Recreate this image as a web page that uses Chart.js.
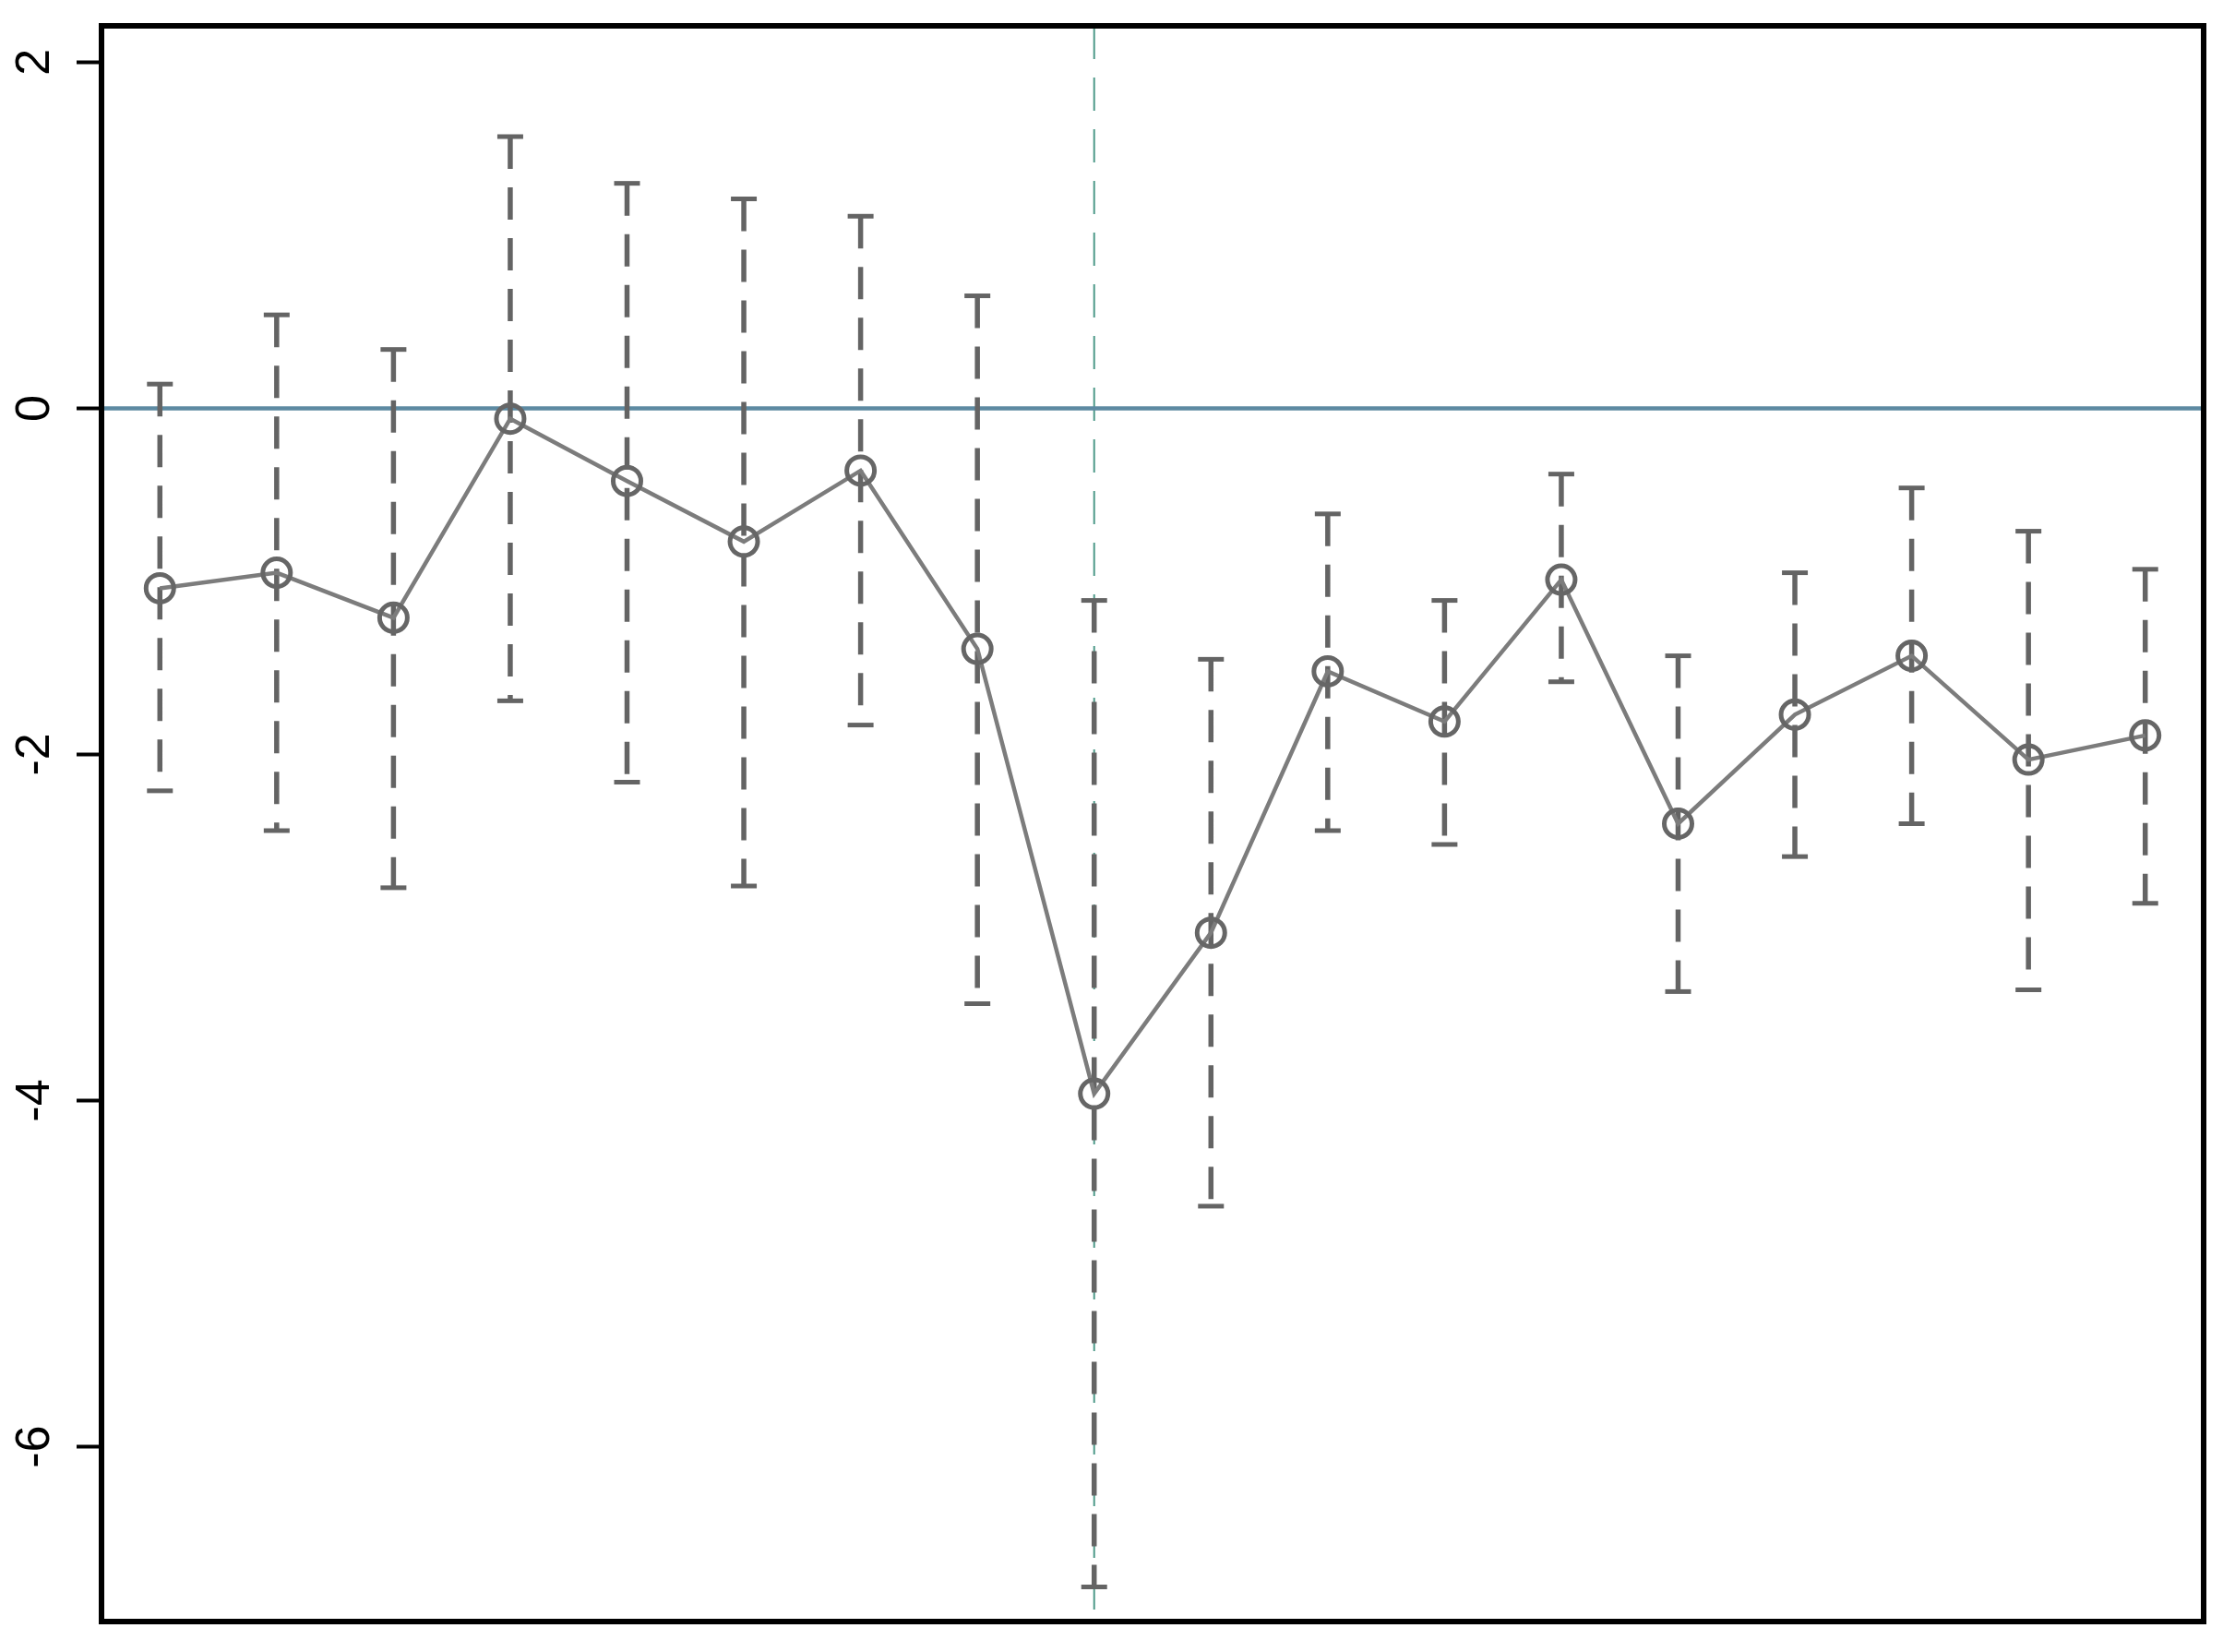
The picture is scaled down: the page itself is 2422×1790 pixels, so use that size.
<!DOCTYPE html>
<html>
<head>
<meta charset="utf-8">
<script src="https://cdn.jsdelivr.net/npm/chart.js@4.4.1/dist/chart.umd.min.js"></script>
<style>
  html, body { margin: 0; padding: 0; background: #fff; }
  #chart { display: block; }
</style>
</head>
<body>
<canvas id="chart" width="2422" height="1790"></canvas>
<script>
// event-time periods (x positions), 0 = event
const periods = [-8, -7, -6, -5, -4, -3, -2, -1, 0, 1, 2, 3, 4, 5, 6, 7, 8, 9];
const coef  = [-1.04, -0.95, -1.21, -0.06, -0.42, -0.77, -0.36, -1.39, -3.96, -3.03, -1.52, -1.81, -0.99, -2.40, -1.77, -1.43, -2.03, -1.89];
const upper = [ 0.14,  0.54,  0.34,  1.57,  1.30,  1.21,  1.11,  0.65, -1.11, -1.45, -0.61, -1.11, -0.38, -1.43, -0.95, -0.46, -0.71, -0.93];
const lower = [-2.21, -2.44, -2.77, -1.69, -2.16, -2.76, -1.83, -3.44, -6.81, -4.61, -2.44, -2.52, -1.58, -3.37, -2.59, -2.40, -3.36, -2.86];
const yTicks = [-6, -4, -2, 0, 2];
const eventPeriod = 0;

const X_MIN = -8.5, X_MAX = 9.5;
const Y_MIN = -7.01, Y_MAX = 2.21;

// error bars: one path per period, broken by null points
const ciData = [];
periods.forEach((p, i) => {
  ciData.push({ x: p, y: upper[i] });
  ciData.push({ x: p, y: lower[i] });
  ciData.push({ x: p, y: null });
});

const framePlugin = {
  id: 'frame',
  afterDraw(chart) {
    const { ctx, chartArea: a } = chart;
    ctx.save();
    ctx.strokeStyle = '#000';
    ctx.lineWidth = 6;
    ctx.strokeRect(a.left, a.top, a.right - a.left, a.bottom - a.top);
    ctx.restore();
  }
};

new Chart(document.getElementById('chart'), {
  type: 'line',
  data: {
    datasets: [
      {
        label: 'coef',
        data: periods.map((p, i) => ({ x: p, y: coef[i] })),
        borderColor: '#7c7c7c',
        borderWidth: 4.5,
        pointRadius: 15,
        pointBorderWidth: 5,
        pointBorderColor: '#666666',
        pointBackgroundColor: 'rgba(0,0,0,0)',
        tension: 0,
        order: 0
      },
      {
        label: 'ci',
        data: ciData,
        borderColor: '#646464',
        borderWidth: 5.5,
        borderDash: [35, 20],
        spanGaps: false,
        pointStyle: 'line',
        pointRadius: 14,
        pointBorderWidth: 5,
        pointBorderColor: '#646464',
        order: 1
      },
      {
        label: 'zero',
        data: [{ x: X_MIN, y: 0 }, { x: X_MAX, y: 0 }],
        borderColor: '#5d8aa2',
        borderWidth: 4.5,
        pointRadius: 0,
        order: 2
      },
      {
        label: 'event',
        data: [{ x: eventPeriod, y: Y_MAX }, { x: eventPeriod, y: Y_MIN }],
        borderColor: '#4e9a89',
        borderWidth: 2,
        borderDash: [36, 20],
        pointRadius: 0,
        order: 3
      }
    ]
  },
  options: {
    responsive: false,
    devicePixelRatio: 1,
    animation: false,
    layout: { padding: { left: 0, top: 28, right: 34, bottom: 33 } },
    plugins: { legend: { display: false }, tooltip: { enabled: false } },
    scales: {
      x: { type: 'linear', min: X_MIN, max: X_MAX, display: false },
      y: {
        type: 'linear',
        min: Y_MIN,
        max: Y_MAX,
        afterBuildTicks: (scale) => { scale.ticks = yTicks.map(v => ({ value: v })); },
        afterFit: (scale) => {
          scale.width = 110;
          scale.paddingTop = 0;
          scale.paddingBottom = 0;
        },
        border: { display: false },
        grid: {
          display: true,
          drawOnChartArea: false,
          drawTicks: true,
          tickLength: 27,
          tickWidth: 4,
          tickColor: '#000',
          color: 'rgba(0,0,0,0)'
        },
        ticks: {
          minRotation: 90,
          maxRotation: 90,
          crossAlign: 'center',
          padding: 21,
          color: '#000',
          font: { family: '"Liberation Sans", Arial, sans-serif', size: 52 }
        }
      }
    }
  },
  plugins: [framePlugin]
});
</script>
</body>
</html>
